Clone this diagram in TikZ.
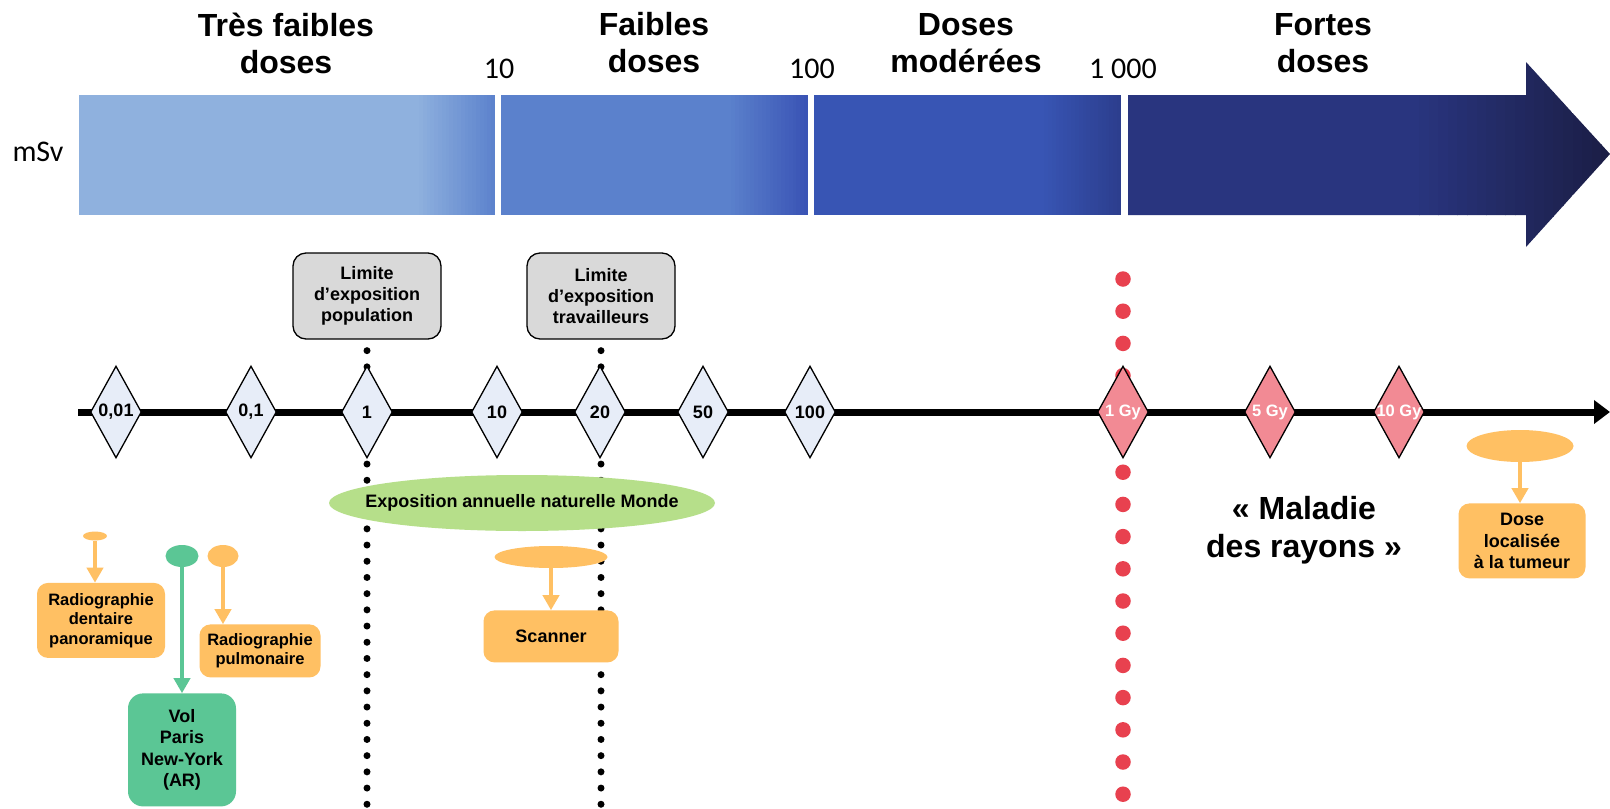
\documentclass[tikz,border=0pt]{standalone}
\usepackage{fontspec}
\setmainfont{Liberation Sans}
\newfontfamily\calibrifont{Carlito}
\usetikzlibrary{shapes,arrows.meta,positioning,calc}

\definecolor{bandA}{HTML}{8FB1DE}
\definecolor{bandAend}{HTML}{5D83CD}
\definecolor{bandB}{HTML}{5B81CC}
\definecolor{bandBend}{HTML}{3A54B5}
\definecolor{bandC}{HTML}{3855B4}
\definecolor{bandCend}{HTML}{2C3E8E}
\definecolor{bandD}{HTML}{29357F}
\definecolor{bandDend}{HTML}{1B1E46}
\definecolor{diablue}{HTML}{E7EDF8}
\definecolor{diared}{HTML}{F28A94}
\definecolor{dotred}{HTML}{E8414F}
\definecolor{limgray}{HTML}{D9D9D9}
\definecolor{examorange}{HTML}{FFC063}
\definecolor{volgreen}{HTML}{5BC695}
\definecolor{natgreen}{HTML}{B6DF8A}

\newcommand{\bandramp}[6]{%
  \foreach \k [evaluate=\k as \p using 5*\k] in {1,...,20}
    \fill[#6!\p!#5] ({#1+(#2-#1)*(\k-1)/20},#3) rectangle ({min(#1+(#2-#1)*\k/20+0.6,#2)},#4);
}

\begin{document}
\begin{tikzpicture}[x=1pt, y=-1pt,
    bandtitle/.style = {align=center, inner sep=0pt, font=\fontsize{32}{37}\selectfont\bfseries},
    scalenum/.style = {inner sep=0pt, font=\calibrifont\fontsize{30}{36}\selectfont},
    bluedia/.style = {diamond, draw, line width=1.3pt, fill=diablue, inner sep=0pt, minimum width=51pt, minimum height=92pt, font=\fontsize{18}{20}\selectfont\bfseries},
    reddia/.style = {bluedia, fill=diared},
    gylabel/.style = {inner sep=0pt, text=white, font=\fontsize{16.5}{18}\selectfont\bfseries},
    limitbox/.style = {rectangle, rounded corners=13pt, draw, line width=1.3pt, fill=limgray, align=center, inner sep=0pt, minimum width=148pt, minimum height=86pt, font=\fontsize{18}{21}\selectfont\bfseries},
    exambox/.style = {rectangle, rounded corners=11pt, fill=examorange, align=center, inner sep=0pt, font=\fontsize{18}{21.5}\selectfont\bfseries},
    smallexam/.style = {exambox, font=\fontsize{16.5}{19.5}\selectfont\bfseries},
    volbox/.style = {exambox, fill=volgreen, rounded corners=15pt},
    examdot/.style = {ellipse, fill=examorange, inner sep=0pt},
    voldot/.style = {examdot, fill=volgreen},
    natural/.style = {ellipse, fill=natgreen, inner sep=0pt, minimum width=386pt, minimum height=56pt},
    natlabel/.style = {inner sep=0pt, font=\fontsize{18}{21}\selectfont\bfseries},
    examarrow/.style = {draw=examorange, line width=4pt, -{Triangle[length=15pt, width=16pt]}},
    volarrow/.style = {examarrow, draw=volgreen},
    axisline/.style = {line width=7pt, -{Triangle[length=16pt, width=23pt]}},
    limitdots/.style = {line width=7pt, line cap=round, dash pattern=on 0pt off 16.2pt},
    reddots/.style = {draw=dotred, line width=15.5pt, line cap=round, dash pattern=on 0pt off 32.2pt},
    ]

        % Bands
        \fill[white, use as bounding box] (0,0) rectangle (1610,809);
        \fill[bandA] (79,95) rectangle (420,215);
        \bandramp{419}{495}{95}{215}{bandA}{bandAend}
        \fill[bandB] (501,95) rectangle (732,215);
        \bandramp{731}{808}{95}{215}{bandB}{bandBend}
        \fill[bandC] (814,95) rectangle (1045,215);
        \bandramp{1044}{1121}{95}{215}{bandC}{bandCend}
        \begin{scope}
            \clip (1128,95) -- (1526,95) -- (1526,62) -- (1610,154) -- (1526,247) -- (1526,215) -- (1128,215) -- cycle;
            \fill[bandD] (1128,60) rectangle (1420,250);
            \bandramp{1419}{1611}{60}{250}{bandD}{bandDend}
        \end{scope}
        %
        \node[bandtitle] (tresfaibles) at (286,43) {Très faibles\\doses};
        \node[bandtitle] (faibles) at (654,43) {Faibles\\doses};
        \node[bandtitle] (moderees) at (966,43) {Doses\\modérées};
        \node[bandtitle] (fortes) at (1323,43) {Fortes\\doses};
        \node[scalenum] (ten) at (499,69) {10};
        \node[scalenum] (hundred) at (812,69) {100};
        \node[scalenum] (thousand) at (1123,69) {1 000};
        \node[scalenum] (unit) at (38,152) {mSv};

        % Axis
        \coordinate (axisstart) at (78,412);
        \coordinate (axisend) at (1610,412);
        \coordinate (bottomline) at (0,809);
        \coordinate (redtop) at (1123,279);
        \coordinate (redbottom) at (1123,795);
        \draw[axisline] (axisstart) -- (axisend);

        % Limits
        \node[limitbox] (limpop) at (367,296) {Limite\\d’exposition\\population};
        \node[limitbox] (limwork) at (601,296) {Limite\\d’exposition\\travailleurs};
        \draw[limitdots] ([yshift=-11pt]limpop.south) -- (limpop.south |- bottomline);
        \draw[limitdots] ([yshift=-11pt]limwork.south) -- (limwork.south |- bottomline);
        \draw[reddots] (redtop) -- (redbottom);

        % Diamonds
        \node[bluedia] (d001) at (116,412) {0,01};
        \node[bluedia] (d01) at (251,412) {0,1};
        \node[bluedia] (d1) at (367,412) {1};
        \node[bluedia] (d10) at (497,412) {10};
        \node[bluedia] (d20) at (600,412) {20};
        \node[bluedia] (d50) at (703,412) {50};
        \node[bluedia] (d100) at (810,412) {100};
        \node[reddia, label={[gylabel]center:1 Gy}] (gy1) at (1123,412) {};
        \node[reddia, label={[gylabel]center:5 Gy}] (gy5) at (1270,412) {};
        \node[reddia, label={[gylabel]center:10 Gy}] (gy10) at (1399,412) {};

        % Exposures
        \node[natural, label={[natlabel]center:Exposition annuelle naturelle Monde}] (nature) at (522,503) {};
        %
        \node[examdot, minimum width=24pt, minimum height=9pt] (dentsrc) at (95,536) {};
        \node[smallexam, minimum width=128pt, minimum height=75pt, below=42pt of dentsrc, xshift=6pt] (dental) {Radiographie\\dentaire\\panoramique};
        \node[voldot, minimum width=33pt, minimum height=22pt] (flightsrc) at (182,556) {};
        \node[volbox, minimum width=108pt, minimum height=113pt, below=126pt of flightsrc] (flight) {Vol\\Paris\\New-York\\(AR)};
        \node[examdot, minimum width=31pt, minimum height=22pt] (lungsrc) at (223,556) {};
        \node[smallexam, minimum width=121pt, minimum height=53pt, below=57pt of lungsrc, xshift=37pt] (lung) {Radiographie\\pulmonaire};
        \node[examdot, minimum width=113pt, minimum height=22pt] (ctsrc) at (551,557) {};
        \node[exambox, minimum width=135pt, minimum height=52pt, below=42pt of ctsrc] (ct) {Scanner};
        \node[examdot, minimum width=107pt, minimum height=32pt] (tumorsrc) at (1520,446) {};
        \node[exambox, minimum width=127pt, minimum height=75pt, below=41pt of tumorsrc, xshift=2pt] (tumor) {Dose\\localisée\\à la tumeur};
        %
        \node[align=center, inner sep=0pt, font=\fontsize{32}{38}\selectfont\bfseries] (sickness) at (1304,530) {« Maladie\\des rayons »};

        % Draw
        \draw[examarrow] (dentsrc.south) -- (dentsrc.south |- dental.north);
        \draw[volarrow] (flightsrc.south) -- (flightsrc.south |- flight.north);
        \draw[examarrow] (lungsrc.south) -- (lungsrc.south |- lung.north);
        \draw[examarrow] (ctsrc.south) -- (ctsrc.south |- ct.north);
        \draw[examarrow] (tumorsrc.south) -- (tumorsrc.south |- tumor.north);
    \end{tikzpicture}
\end{document}
